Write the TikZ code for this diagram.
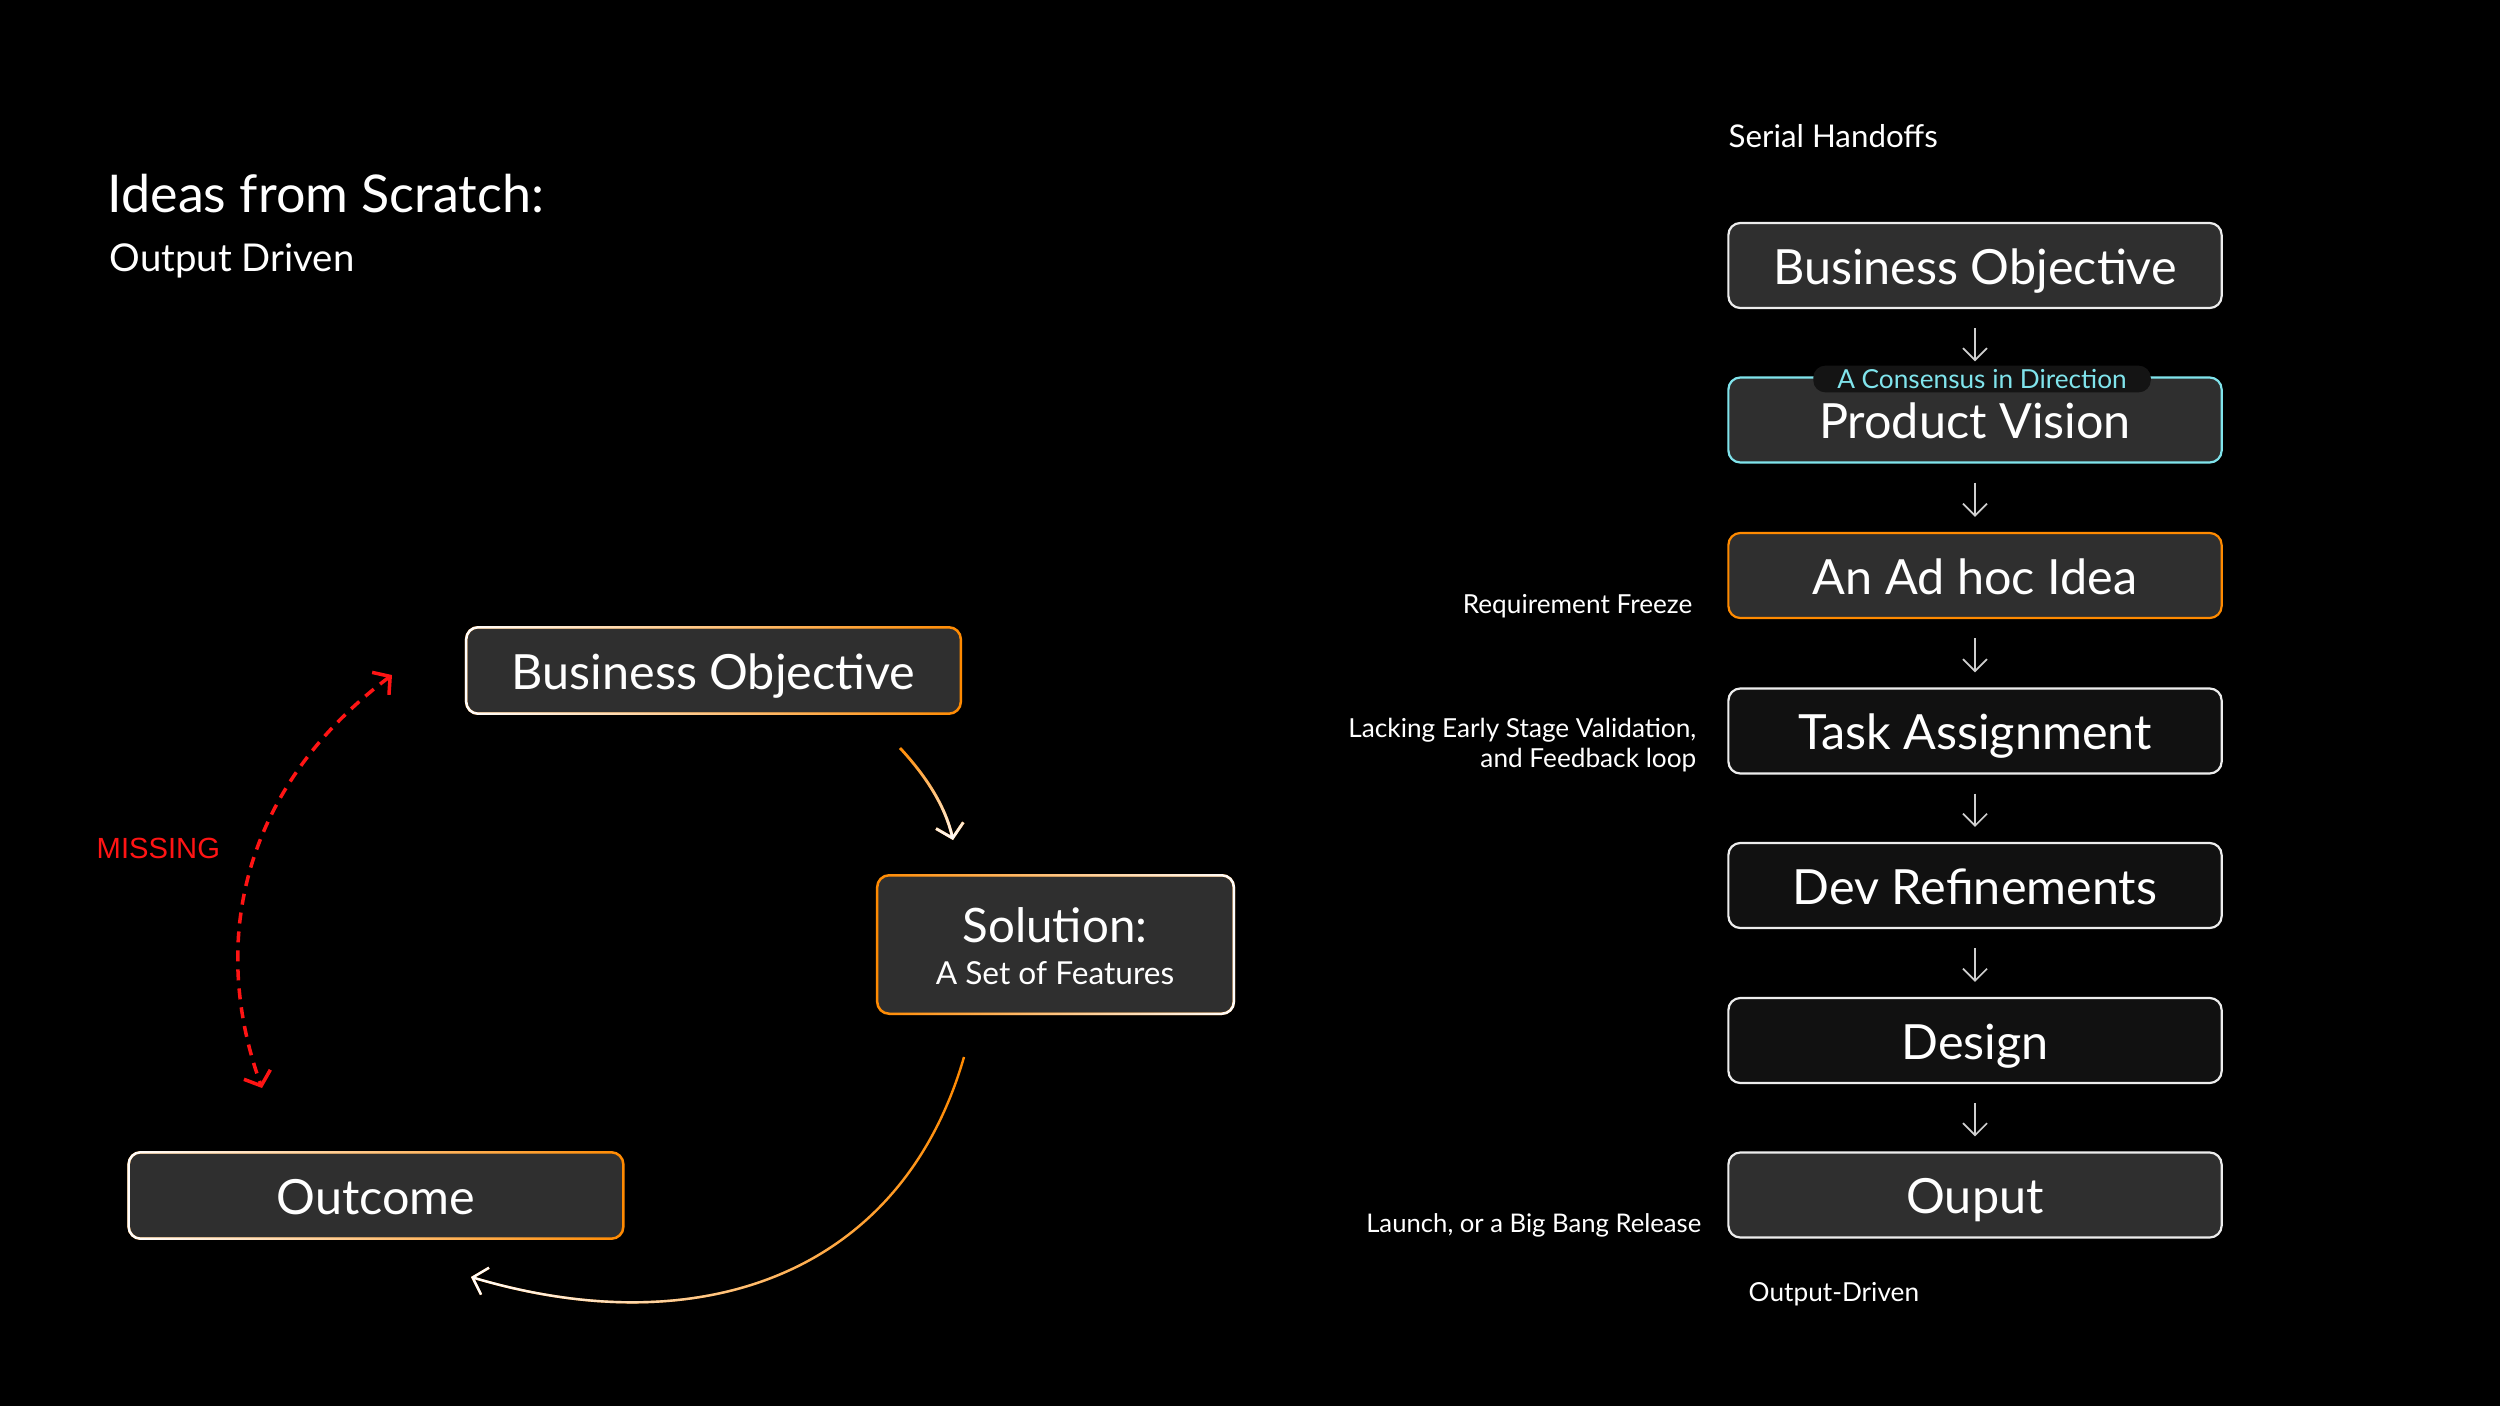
\documentclass[tikz,border=0pt]{standalone}
\usepackage{fontspec}
\setmainfont{Lato}
\newfontfamily\arialfont{Liberation Sans}
\usetikzlibrary{arrows.meta,fadings}
\definecolor{boxgray}{HTML}{2F2F2F}
\definecolor{boxdark}{HTML}{111111}
\definecolor{orangeC}{HTML}{FF8A00}
\definecolor{cyanC}{HTML}{80E4EC}
\definecolor{arrgray}{HTML}{CFCFCF}
\definecolor{redC}{HTML}{FF1414}
\definecolor{pillC}{HTML}{141414}
\definecolor{edgeW}{HTML}{EDEDED}
\tikzfading[name=fadeL, left color=transparent!0, right color=transparent!100]
\tikzfading[name=fadeR, left color=transparent!100, right color=transparent!0]
\tikzfading[name=fadeS, top color=transparent!100, bottom color=transparent!0]
\begin{document}
\begin{tikzpicture}[x=0.01cm,y=-0.01cm,
  boxbase/.style={rounded corners=0.12cm, minimum width=4.93cm, minimum height=0.85cm,
    inner sep=0pt, text=white, font=\fontsize{13.8}{16}\selectfont, text height=10.6pt, text depth=0pt},
  gbox/.style={boxbase, fill=boxgray},
  dbox/.style={boxbase, fill=boxdark},
  rim/.style={line width=0.025cm, rounded corners=0.12cm},
  darr/.style={draw=arrgray, line width=0.017cm, -{Straight Barb[length=0.12cm,width=0.24cm]}},
  lbl/.style={text=white, inner sep=0pt, font=\fontsize{7.45}{8.6}\selectfont},
  curvarr/.style={line width=0.028cm, -{Straight Barb[length=0.13cm,width=0.28cm]}},
]
\useasboundingbox (0,0) rectangle (2500,1406);
\fill[black] (0,0) rectangle (2500,1406);

% ---------- left part ----------
\node[text=white, inner sep=0pt, anchor=base west, font=\fontsize{14.8}{17}\selectfont] (title) at (107,212) {Ideas from Scratch:};
\node[text=white, inner sep=0pt, anchor=base west, font=\fontsize{10.9}{12}\selectfont] (subtitle) at (109,271) {Output Driven};

\node[gbox] (lbo) at (713.5,670.5) {Business Objective};
\draw[rim, orangeC] (lbo.south west) rectangle (lbo.north east);
\draw[rim, white, path fading=fadeL] (lbo.south west) rectangle (lbo.north east);

\node[gbox, minimum width=3.55cm, minimum height=1.37cm] (sol) at (1055.5,944.5) {};
\draw[rim, orangeC] (sol.south west) rectangle (sol.north east);
\draw[rim, white, path fading=fadeR] (sol.south west) rectangle (sol.north east);
\node[text=white, inner sep=0pt, anchor=base, font=\fontsize{13.5}{15}\selectfont] (sol1) at (1055,942) {Solution:};
\node[text=white, inner sep=0pt, anchor=base, font=\fontsize{9}{10}\selectfont] (sol2) at (1055,984) {A Set of Features};

\node[gbox] (outc) at (376,1195.5) {Outcome};
\draw[rim, orangeC] (outc.south west) rectangle (outc.north east);
\draw[rim, white, path fading=fadeL] (outc.south west) rectangle (outc.north east);

% arrow BO -> Solution
\coordinate (a1s) at (900,748);
\coordinate (a1e) at (953,840);
\draw[curvarr, orangeC] (a1s) .. controls (925,775) and (945,805) .. (a1e);
\draw[curvarr, white, path fading=fadeS] (a1s) .. controls (925,775) and (945,805) .. (a1e);

% arrow Solution -> Outcome
\coordinate (a2s) at (964,1057);
\coordinate (a2e) at (471,1277);
\draw[curvarr, line width=0.024cm, orangeC] (a2s) .. controls (901,1275) and (700,1345) .. (a2e);
\draw[curvarr, line width=0.024cm, white, path fading=fadeL] (a2s) .. controls (901,1275) and (700,1345) .. (a2e);

% missing dashed arrow
\coordinate (mt) at (392,675);
\coordinate (mb) at (262,1088);
\draw[redC, line width=0.035cm, dash pattern=on 0.11cm off 0.08cm,
  {Straight Barb[length=0.12cm,width=0.28cm]}-{Straight Barb[length=0.12cm,width=0.28cm]}]
  (mt) .. controls (252,780) and (205,930) .. (mb);
\node[text=redC, inner sep=0pt, anchor=base west, font=\arialfont\fontsize{8.3}{10}\selectfont] (miss) at (96,858) {MISSING};

% ---------- right part ----------
\node[text=white, inner sep=0pt, anchor=base west, font=\fontsize{8.9}{10}\selectfont] (serial) at (1728,147) {Serial Handoffs};

\node[gbox, draw=edgeW, line width=0.022cm] (rbo) at (1975,265.5) {Business Objective};
\node[gbox, draw=cyanC, line width=0.022cm] (pv) at (1975,420) {Product Vision};
\node[gbox, draw=orangeC, line width=0.022cm] (idea) at (1975,575.5) {An Ad hoc Idea};
\node[dbox, draw=edgeW, line width=0.022cm] (task) at (1975,731) {Task Assignment};
\node[dbox, draw=edgeW, line width=0.022cm] (dev) at (1975,885.5) {Dev Refinements};
\node[dbox, draw=edgeW, line width=0.022cm] (des) at (1975,1040.5) {Design};
\node[gbox, draw=edgeW, line width=0.022cm] (outp) at (1975,1195) {Ouput};

\foreach \a/\b in {rbo/pv, pv/idea, idea/task, task/dev, dev/des, des/outp}
  \draw[darr] ([yshift=-0.19cm]\a.south) -- ([yshift=0.15cm]\b.north);

\node[fill=pillC, rounded corners=0.12cm, text=cyanC, inner xsep=0.24cm, inner ysep=0.04cm,
  font=\fontsize{7.45}{8}\selectfont, text height=5.3pt, text depth=0pt] (cons) at (1982,379) {A Consensus in Direction};

\node[lbl, anchor=base east] (req) at (1693,613) {Requirement Freeze};
\node[lbl, anchor=base east, align=right] (lack) at (1697,767) {Lacking Early Stage Validation,\\[-0.3pt]and Feedback loop};
\node[lbl, anchor=base east, font=\fontsize{7.3}{8.6}\selectfont] (launch) at (1702,1232) {Launch, or a Big Bang Release};
\node[lbl, anchor=base west] (odriv) at (1748,1301) {Output-Driven};
\end{tikzpicture}
\end{document}
